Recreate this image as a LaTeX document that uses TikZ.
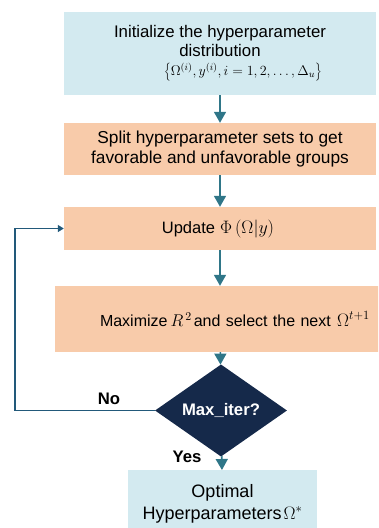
\RequirePackage{fix-cm}
\documentclass[tikz,border=0pt]{standalone}
\usepackage{fontspec}
\setmainfont{Liberation Sans}
\usetikzlibrary{shapes.geometric,arrows.meta}
\definecolor{lightblue}{HTML}{D3EAF0}
\definecolor{peach}{HTML}{F8CBAA}
\definecolor{tealarrow}{HTML}{2F7688}
\definecolor{navy}{HTML}{15294A}
\definecolor{loopblue}{HTML}{22597A}
\begin{document}
\begin{tikzpicture}[x=1pt,y=-1pt,
  bluebox/.style={fill=lightblue,align=center,inner sep=0pt},
  orangebox/.style={fill=peach,align=center,inner sep=0pt},
  flowarrow/.style={draw=tealarrow,line width=1.6pt,-{Triangle[width=12pt,length=11pt]}},
  decision/.style={diamond,fill=navy,text=white,inner sep=0pt,font=\bfseries\fontsize{16.7}{19}\selectfont},
  loopline/.style={draw=loopblue,line width=1.3pt,-{Triangle[width=7pt,length=6pt]}},
  answer/.style={font=\bfseries\fontsize{16.7}{19}\selectfont}]
\useasboundingbox (0,0) rectangle (378,528);
\clip (0,0) rectangle (378,528);
\node[bluebox,minimum width=312pt,minimum height=83pt,font=\fontsize{16.8}{18.5}\selectfont] (init) at (220,53.5)
  {Initialize the hyperparameter\\distribution\\[1pt]
   \hspace*{46pt}{\fontsize{14}{16}\selectfont$\left\{\Omega^{(i)},y^{(i)},i=1,2,\ldots,\Delta_{u}\right\}$}};
\node[orangebox,minimum width=312pt,minimum height=52pt,font=\fontsize{17.3}{20}\selectfont] (split) at (220,149)
  {Split hyperparameter sets to get\\favorable and unfavorable groups};
\node[orangebox,minimum width=312pt,minimum height=43pt,font=\fontsize{16.5}{18}\selectfont] (update) at (220,228.5)
  {\hspace*{-4pt}Update\hspace{5pt}{\fontsize{18}{20}\selectfont$\Phi\left(\Omega|y\right)$}};
\node[orangebox,minimum width=330pt,minimum height=66pt,text width=330pt,align=left,font=\fontsize{16}{18}\selectfont] (maximize) at (220,319)
  {\hspace*{45pt}Maximize\hspace{3pt}{\fontsize{17}{18}\selectfont$R^{\,2}$}\hspace{2pt}and select the next \hspace{1pt}{\fontsize{18}{18}\selectfont$\Omega^{t+1}$}};
\node[decision,minimum width=132pt,minimum height=55pt] (maxiter) at (221,410.5) {Max\_iter?};
\node[bluebox,minimum width=189pt,minimum height=67pt,anchor=north,font=\fontsize{18}{22}\selectfont] (optimal) at (222.5,470)
  {Optimal\\Hyperparameters\hspace{2pt}$\Omega^{*}$};
\coordinate (loopx) at (15,0);
\draw[flowarrow] (init) -- (split);
\draw[flowarrow] (split) -- (update);
\draw[flowarrow] (update) -- (maximize);
\draw[flowarrow] (maximize) -- (maxiter);
\draw[flowarrow] (maxiter) -- (optimal);
\draw[loopline] (maxiter.west) -- (maxiter.west -| loopx) |- (update.west);
\node[answer] (nolabel) at (109,399) {No};
\node[answer] (yeslabel) at (187,457) {Yes};
\end{tikzpicture}
\end{document}
